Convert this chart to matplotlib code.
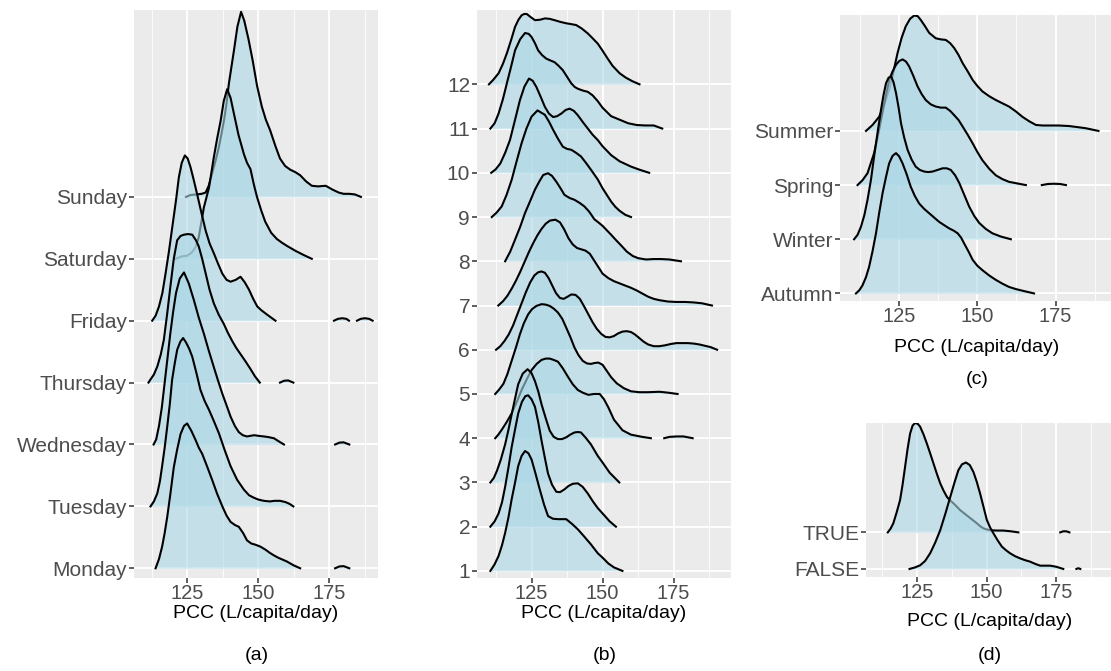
import numpy as np
import matplotlib.pyplot as plt

plt.rcParams['font.family'] = ['Liberation Sans', 'DejaVu Sans']

# ---- panel (a): day of week ----
days = ['Monday', 'Tuesday', 'Wednesday', 'Thursday', 'Friday', 'Saturday', 'Sunday']
sun_x = [124.5,126,128,130,131.4,132.5,133.7,135,136.1,137,137.9,138.8,139.6,140.5,141.4,142.6,143.9,145,146.5,148,
         149.5,151.2,152.6,154.1,156,157.6,159.4,161.2,163,164.7,166.8,168.8,171,173.7,176,178.3,180,182,184,186.1]
sun_h = [0,0.03,0.04,0.05,0.07,0.18,0.38,0.6,0.81,1.02,1.24,1.52,1.83,2.1,2.37,2.75,2.99,2.85,2.55,2.2,
         1.8,1.46,1.25,1.08,0.82,0.62,0.5,0.44,0.4,0.35,0.25,0.18,0.17,0.18,0.12,0.07,0.05,0.05,0.04,0]
sat_x = [120.9,123,124.9,126.5,127.9,129,129.6,130.8,132.6,134.3,135.5,136.7,137.8,139,140.2,141.4,143,144.9,146,147.2,
         148.4,149.5,151,152.4,154.5,156.5,158.3,160,163,166,168.8]
sat_h = [0,0.04,0.05,0.1,0.19,0.35,0.51,0.83,1.15,1.64,1.95,2.23,2.55,2.74,2.6,2.34,2.0,1.69,1.55,1.45,
         1.2,1.0,0.78,0.6,0.42,0.32,0.26,0.21,0.13,0.06,0]
fri_x = [112.6,113.8,115,116.2,117.3,118.5,119.7,121,122,123,124.1,125.1,126.1,127.2,128.4,129.9,131.4,132.8,134.3,135.8,
         137.3,138.8,140.2,142,143.7,145.2,146.7,148.2,149.6,151,153,156]
fri_h = [0,0.08,0.23,0.45,0.76,1.12,1.52,1.95,2.32,2.55,2.67,2.62,2.48,2.28,2.05,1.75,1.46,1.25,1.09,0.92,
         0.76,0.66,0.63,0.66,0.71,0.62,0.5,0.35,0.23,0.17,0.1,0]
thu_x = [111.3,112,113.2,114.4,115.6,116.7,117.9,119,120.2,121.4,122.6,123.8,125.2,126.7,128,129,130.2,131.4,132.8,134.3,
         136,137.9,139.3,140.8,142.2,143.7,145.5,147.2,148.8,150.5]
thu_h = [0,0.05,0.13,0.26,0.45,0.69,1.12,1.55,2.0,2.3,2.37,2.39,2.4,2.39,2.3,2.2,2.0,1.77,1.5,1.28,
         1.1,0.94,0.8,0.67,0.56,0.46,0.34,0.22,0.1,0]
wed_x = [113.1,114,115,116,117,118,119,120,121,122.3,123.8,125.5,127.3,129,130.8,132.5,134.3,135.8,137.3,138.8,
         140.2,141.7,143.1,144.5,146,147.2,148.5,150,151.9,153.5,155.5,157.2,159]
wed_h = [0,0.08,0.3,0.6,1.0,1.4,1.8,2.15,2.45,2.68,2.78,2.6,2.33,2.05,1.79,1.52,1.25,1.03,0.82,0.63,
         0.45,0.3,0.2,0.15,0.13,0.14,0.15,0.14,0.13,0.12,0.1,0.05,0]
tue_x = [112,113.2,114.4,115.3,116.1,117,117.9,118.8,119.6,120.5,121.4,122.5,123.5,124.5,125.6,126.7,128.2,129.6,131.1,132.6,
         134.3,136.1,138.2,140.2,142.5,144.9,146.7,148.4,150,151.9,154,155.7,157.6,159.5,161,162.3]
tue_h = [0,0.08,0.21,0.4,0.65,0.95,1.29,1.65,2.04,2.3,2.53,2.66,2.72,2.65,2.55,2.42,2.15,1.88,1.7,1.56,
         1.38,1.18,0.9,0.65,0.43,0.27,0.18,0.14,0.11,0.09,0.08,0.09,0.09,0.07,0.04,0]
mon_x = [113.8,115,116.1,117,117.9,119,120.2,121.4,122.6,123.8,124.9,126.4,127.9,129,130.2,131.9,133.7,135.5,137.3,138.8,
         140.2,141.7,143.1,144.6,146,147.5,149,150.7,152.5,154,155.4,157,158.5,160,162.3,164.7]
mon_h = [0,0.15,0.35,0.57,0.83,1.2,1.63,1.92,2.17,2.3,2.34,2.22,2.07,1.95,1.85,1.65,1.43,1.2,1.0,0.85,
         0.75,0.7,0.67,0.57,0.45,0.4,0.38,0.35,0.3,0.25,0.21,0.17,0.14,0.11,0.05,0]
# small isolated bits of density far out in the tail
fri_tail1_x, fri_tail1_h = [176.6,178,179.5,181,181.9], [0,0.03,0.04,0.03,0]
fri_tail2_x, fri_tail2_h = [184.7,186,187.5,189,190.2], [0,0.03,0.04,0.03,0]
thu_tail_x, thu_tail_h = [157.6,159,160.5,162.3], [0,0.03,0.035,0]
wed_tail_x, wed_tail_h = [177,178.5,180,182], [0,0.03,0.035,0]
mon_tail_x, mon_tail_h = [177,178.5,180,182], [0,0.03,0.035,0]

# ---- panel (b): month ----
months = [str(m) for m in range(1, 13)]
m1_x = [110.5,112,113.4,114.6,115.7,116.9,118,119.2,120.3,121.5,122.7,123.9,125,126.4,127.9,129.4,130.8,132.5,134.3,135.8,
        137.2,139.3,141.3,143.5,145.9,148.3,150,152,154,157]
m1_h = [0,0.15,0.34,0.58,0.86,1.22,1.62,2.0,2.37,2.6,2.71,2.66,2.52,2.2,1.84,1.5,1.24,1.18,1.17,1.17,
        1.17,1.06,0.94,0.78,0.6,0.4,0.3,0.17,0.08,0]
m2_x = [110.5,112,113.4,114.6,115.7,116.9,118,119.2,120.3,121.6,122.8,123.8,125,126.2,127.4,128.5,129.7,130.8,132.2,133.7,
        135,136.5,138,139.5,141.3,143,144.8,146.5,148.3,150,152.5,154.7]
m2_h = [0,0.12,0.3,0.55,0.9,1.35,1.8,2.2,2.56,2.82,2.95,2.97,2.88,2.71,2.35,1.95,1.55,1.2,0.95,0.79,
        0.78,0.84,0.92,0.97,0.98,0.9,0.75,0.58,0.42,0.3,0.12,0]
m3_x = [110.5,111.7,112.8,114.2,115.7,116.9,118,119.2,120.3,121.9,123.6,125,126.2,127.4,128.5,130,131.4,132.8,134.3,135.7,
        137.2,138.6,140.1,141.3,142.4,144.2,145.9,148.3,150,152.5,155.9]
m3_h = [0,0.1,0.26,0.52,0.86,1.2,1.54,1.9,2.22,2.46,2.56,2.47,2.29,2.05,1.77,1.45,1.17,1.03,0.98,0.98,
        1.02,1.08,1.13,1.14,1.13,1.0,0.86,0.6,0.45,0.22,0]
m4_x = [112.2,113.3,114.5,116.2,118,119.8,121.5,123.3,125,126.8,128.5,130,131.4,132.8,134.3,136,137.8,139.5,141.3,143,
        145,147,149,150.5,152,154,157,160,164,167]
m4_h = [0,0.08,0.19,0.36,0.56,0.82,1.09,1.33,1.54,1.68,1.77,1.8,1.8,1.77,1.73,1.58,1.39,1.22,1.09,1.03,
        0.98,1.0,1.0,0.88,0.7,0.42,0.18,0.08,0.03,0]
m5_x = [112.2,113.6,115.1,116.5,118,119.5,120.9,122.3,123.8,125.2,126.7,128.5,130,131.4,132.8,134.3,135.8,137.2,138.7,140.1,
        141.5,143,144.5,145.9,147.2,148.5,150,151.5,153,155,157.5,160,163,166,170,173,176.4]
m5_h = [0,0.1,0.23,0.45,0.75,1.05,1.35,1.6,1.8,1.92,1.99,2.03,2.02,1.99,1.93,1.84,1.7,1.5,1.28,1.05,
        0.88,0.75,0.69,0.68,0.7,0.71,0.66,0.52,0.38,0.24,0.13,0.06,0.04,0.04,0.05,0.03,0]
m6_x = [112.5,114,115.5,117,118.5,120,121.5,123,124.5,126,127.3,128.5,129.7,131,132.3,133.6,135,136.3,137.7,139,
        140.5,142,143.5,145,146.5,148,149.5,151,152.5,154,155.5,157,158.5,160,161.5,163,164.5,166,168,170,
        172,174,176,178,180,182,184,186,188,190.3]
m6_h = [0,0.08,0.2,0.35,0.55,0.8,1.05,1.3,1.52,1.68,1.75,1.77,1.74,1.62,1.45,1.28,1.17,1.15,1.2,1.25,
        1.24,1.15,0.98,0.8,0.62,0.47,0.36,0.29,0.28,0.31,0.37,0.41,0.42,0.4,0.34,0.26,0.18,0.12,0.08,0.08,
        0.1,0.13,0.15,0.15,0.15,0.14,0.12,0.09,0.06,0]
m7_x = [113.3,115,116.5,118,119.5,121,122.5,124,125.5,127,128.5,130,131.5,133.4,135,136.5,138,139.5,141,142.5,
        144,145.5,147,148.5,150,152,154,156,158,160,162,164,166,168,170,173,176,179,182,185,188.5]
m7_h = [0,0.1,0.22,0.38,0.56,0.76,0.98,1.2,1.4,1.58,1.73,1.85,1.92,1.94,1.88,1.72,1.52,1.38,1.3,1.27,
        1.24,1.17,1.02,0.87,0.72,0.62,0.55,0.5,0.45,0.4,0.34,0.27,0.2,0.15,0.12,0.09,0.08,0.08,0.07,0.05,0]
m8_x = [115.7,117.5,119.2,121,122.7,124.5,126.2,127.7,129.1,130.8,132.2,133.7,135.2,136.6,138.4,140.1,141.9,143.6,145.3,147.1,
        148.5,150,151.5,153,154.7,156.5,158.5,160.6,162.5,165.3,168,170.5,173.5,177.6]
m8_h = [0,0.22,0.49,0.78,1.09,1.36,1.62,1.8,1.95,1.99,1.93,1.8,1.65,1.5,1.43,1.39,1.32,1.24,1.12,0.95,
        0.88,0.8,0.7,0.6,0.48,0.36,0.22,0.12,0.07,0.04,0.05,0.05,0.04,0]
m9_x = [111,112.7,114.5,116.2,118,119.7,121.5,123.2,125,127.1,129.7,131.2,132.6,134.3,136,137.5,139,140.7,142.4,144.2,
        145.9,148.3,150,151.5,153,154.5,156,158,160]
m9_h = [0,0.1,0.24,0.5,0.84,1.25,1.67,2.0,2.27,2.41,2.31,2.15,1.97,1.77,1.59,1.54,1.52,1.45,1.37,1.22,
        1.07,0.85,0.65,0.5,0.35,0.23,0.14,0.05,0]
m10_x = [110.8,112.4,114,115.7,117.4,119.2,120.9,122.5,124.1,125.4,126.7,128.2,129.7,131.1,132.6,134,135.5,137,138.4,139.9,
         141.3,143,144.8,146.5,148.3,150,153,156,160,163,166.4]
m10_h = [0,0.08,0.21,0.45,0.74,1.2,1.64,1.95,2.13,2.08,1.94,1.72,1.49,1.34,1.26,1.28,1.34,1.42,1.45,1.4,
         1.3,1.15,1.0,0.86,0.74,0.6,0.4,0.26,0.14,0.07,0]
m11_x = [110.5,112,113.4,114.9,116.3,117.8,119.2,121,122.7,124,125,126.2,127.3,128.7,130.2,131.6,133.1,134.5,136,137.5,
         139,140.2,141.3,143,144.8,146.5,148.3,150,153,156,159,162,165,168,171]
m11_h = [0,0.12,0.34,0.66,1.02,1.4,1.77,2.02,2.16,2.14,2.07,1.93,1.77,1.66,1.58,1.54,1.5,1.42,1.32,1.17,
         1.02,0.94,0.9,0.86,0.83,0.75,0.62,0.47,0.28,0.2,0.12,0.08,0.07,0.07,0]
m12_x = [110,111.5,113.4,114.9,116.3,117.8,119.2,120.4,121.5,122.4,123.3,124.7,126.2,128,129.7,131.4,133.1,135.2,137.2,139,
         140.7,142.7,144.8,146.5,148.3,150,151.8,153.5,156,158.2,160.5,163]
m12_h = [0,0.1,0.25,0.46,0.7,1.0,1.3,1.46,1.56,1.59,1.59,1.52,1.45,1.46,1.49,1.48,1.45,1.41,1.38,1.36,
         1.34,1.26,1.15,1.04,0.92,0.76,0.58,0.42,0.25,0.15,0.07,0]
m4_tail_x, m4_tail_h = [171.7,173.5,176,178.5,181.7], [0,0.03,0.04,0.04,0]

# ---- panel (c): season ----
seasons = ['Autumn', 'Winter', 'Spring', 'Summer']
summer_x = [114.4,116.5,118.6,120.2,121.8,123.2,124.5,125.8,127.1,128.5,129.8,130.9,131.9,133.3,134.6,136.7,138.3,139.9,141.3,142.6,
            144,145.3,146.9,148.5,150,151.6,153.8,155.9,158,160.1,162.3,164.4,166.5,168.7,170.8,172.9,176,179.3,182,184.6,188.7]
summer_h = [0,0.11,0.26,0.48,0.76,1.1,1.44,1.72,1.93,2.07,2.13,2.12,2.05,1.93,1.81,1.71,1.69,1.68,1.62,1.53,
            1.4,1.25,1.1,0.94,0.83,0.73,0.64,0.57,0.51,0.45,0.36,0.26,0.18,0.11,0.1,0.1,0.1,0.09,0.07,0.05,0]
spring_x = [111.7,113.3,114.9,117,118.1,119.2,120.5,121.8,122.9,124,125,126.1,127.2,128.2,129.5,130.9,132.2,133.5,135.1,136.7,
            138.3,139.9,141.3,142.6,144,145.3,146.9,148.5,150,151.6,153.8,155.9,158,160.1,162.8,165.5]
spring_h = [0,0.09,0.22,0.59,0.88,1.2,1.58,1.94,2.1,2.22,2.29,2.32,2.28,2.19,2.02,1.82,1.68,1.57,1.49,1.45,
            1.43,1.43,1.37,1.29,1.2,1.08,0.93,0.77,0.61,0.46,0.3,0.18,0.11,0.06,0.03,0]
winter_x = [110.6,111.7,112.8,113.9,114.9,116,117,118.1,119.2,120,120.8,121.6,122.4,123.2,124,124.8,125.6,126.6,127.7,129,
            130.3,131.6,133,134.3,135.7,137.3,138.9,140.2,141.5,142.9,144.2,145.8,147.4,149,150.6,152.7,154.8,157.5,160.7]
winter_h = [0,0.08,0.23,0.45,0.73,1.1,1.53,1.97,2.39,2.66,2.88,2.98,3.01,2.9,2.7,2.44,2.14,1.88,1.65,1.47,
            1.34,1.28,1.25,1.24,1.25,1.28,1.31,1.31,1.28,1.18,1.04,0.82,0.6,0.43,0.3,0.19,0.11,0.05,0]
autumn_x = [111.2,112.3,113.3,114.4,115.4,116.5,117.6,118.6,119.7,120.8,121.8,122.9,124,125,126.1,127.4,128.7,130,131.4,133,
            134.6,136.2,137.8,139.4,141,142.4,143.7,144.8,145.8,147.2,148.5,150,151.6,153.8,155.9,158,160.1,162.3,164.4,168.1]
autumn_h = [0,0.06,0.15,0.3,0.49,0.78,1.11,1.48,1.85,2.15,2.4,2.54,2.59,2.53,2.4,2.2,1.97,1.8,1.66,1.56,
            1.48,1.4,1.32,1.26,1.2,1.16,1.11,1.03,0.92,0.77,0.62,0.51,0.43,0.33,0.25,0.18,0.12,0.08,0.05,0]
spring_tail_x, spring_tail_h = [170.6,172.5,174.5,176.5,178.3], [0,0.02,0.025,0.02,0]

# ---- panel (d): TRUE / FALSE ----
flags = ['FALSE', 'TRUE']
true_x = [114.6,115.6,116.6,117.8,119,119.9,120.8,121.7,122.6,123.5,124.4,125.3,126.2,127.4,128.6,129.8,131,132.2,133.4,134.6,
          135.8,137,138.2,139.4,140.5,142,143.5,145,146.5,147.7,148.9,150.1,151.3,153.5,156,158.7,161.4]
true_h = [0,0.1,0.25,0.55,0.88,1.3,1.79,2.28,2.7,2.92,2.99,2.97,2.89,2.68,2.43,2.16,1.88,1.6,1.34,1.14,
          0.97,0.87,0.79,0.7,0.61,0.52,0.43,0.34,0.25,0.17,0.11,0.08,0.06,0.05,0.05,0.03,0]
false_x = [122.4,124.3,126.2,128,129.8,131.6,133.4,135.2,137,138.5,139.9,141.2,142.6,144,145.3,146.5,147.7,148.9,150.1,151.3,
           152.5,154,155.5,157,158.4,160.2,162,163.8,165.6,167.4,169.2,171,172.8,175,177.5]
false_h = [0,0.04,0.1,0.22,0.43,0.72,1.06,1.5,1.97,2.36,2.7,2.86,2.91,2.84,2.65,2.38,2.06,1.7,1.34,1.13,
           0.97,0.78,0.61,0.51,0.43,0.35,0.29,0.24,0.2,0.14,0.09,0.09,0.09,0.06,0]
true_tail_x, true_tail_h = [176.4,177.5,178.6,179.7], [0,0.03,0.03,0]
false_tail_x, false_tail_h = [182.2,182.9,183.6], [0,0.02,0]


W, H = 1111, 671
FILL = '#add8e6'
fig = plt.figure(figsize=(W / 100, H / 100), dpi=100)


def make_ax(left, top, right, bottom, xlim, ylim, cats):
    ax = fig.add_axes([left / W, 1 - bottom / H, (right - left) / W, (bottom - top) / H])
    ax.set_facecolor('#EBEBEB')
    ax.set_xlim(*xlim)
    ax.set_ylim(*ylim)
    for v in [112.5, 137.5, 162.5, 187.5]:
        ax.axvline(v, color='white', lw=0.6, zorder=1)
    for v in [125, 150, 175]:
        ax.axvline(v, color='white', lw=1.3, zorder=1)
    for k in range(1, len(cats) + 1):
        ax.axhline(k, color='white', lw=1.3, zorder=1)
    ax.set_xticks([125, 150, 175])
    ax.set_yticks(range(1, len(cats) + 1))
    ax.set_yticklabels(cats)
    ax.tick_params(length=3.5, width=1.1, color='#333333', labelcolor='#4D4D4D', labelsize=15, pad=1.5)
    ax.tick_params(axis='x', labelsize=14.5, pad=1)
    for s in ax.spines.values():
        s.set_visible(False)
    return ax


def draw_ridges(ax, cats, curves, tails):
    # upper ridges first, so the lower ones sit in front of them
    z = 2
    for k in range(len(cats), 0, -1):
        cat = cats[k - 1]
        segs = [curves[cat]] + tails.get(cat, [])
        for xs, hs in segs:
            xs = np.array(xs)
            hs = np.array(hs)
            ax.fill_between(xs, k, k + hs, color=FILL, alpha=0.6, lw=0, zorder=z)
            ax.plot(xs, k + hs, color='black', lw=1.5, zorder=z + 1)
        z += 2


def labels(cx, y_title, tag, x_tag, y_tag):
    fig.text(cx / W, 1 - y_title / H, 'PCC (L/capita/day)', ha='center', va='center', fontsize=14)
    fig.text(x_tag / W, 1 - y_tag / H, tag, ha='center', va='center', fontsize=14)


# (a)
ax_a = make_ax(134, 10, 378, 578, (106.2, 192.1), (0.843, 10.02), days)
draw_ridges(ax_a, days,
            {'Sunday': (sun_x, sun_h), 'Saturday': (sat_x, sat_h), 'Friday': (fri_x, fri_h),
             'Thursday': (thu_x, thu_h), 'Wednesday': (wed_x, wed_h), 'Tuesday': (tue_x, tue_h),
             'Monday': (mon_x, mon_h)},
            {'Friday': [(fri_tail1_x, fri_tail1_h), (fri_tail2_x, fri_tail2_h)],
             'Thursday': [(thu_tail_x, thu_tail_h)], 'Wednesday': [(wed_tail_x, wed_tail_h)],
             'Monday': [(mon_tail_x, mon_tail_h)]})
labels(256, 613, '(a)', 257, 655)

# (b)
ax_b = make_ax(477, 10, 731, 578, (105.8, 195.2), (0.84, 13.68), months)
month_x = [m1_x, m2_x, m3_x, m4_x, m5_x, m6_x, m7_x, m8_x, m9_x, m10_x, m11_x, m12_x]
month_h = [m1_h, m2_h, m3_h, m4_h, m5_h, m6_h, m7_h, m8_h, m9_h, m10_h, m11_h, m12_h]
draw_ridges(ax_b, months, {m: (month_x[i], month_h[i]) for i, m in enumerate(months)},
            {'4': [(m4_tail_x, m4_tail_h)]})
labels(604, 613, '(b)', 605, 655)

# (c)
ax_c = make_ax(840, 15, 1111, 301, (106.1, 192.7), (0.86, 6.14), seasons)
draw_ridges(ax_c, seasons,
            {'Summer': (summer_x, summer_h), 'Spring': (spring_x, spring_h),
             'Winter': (winter_x, winter_h), 'Autumn': (autumn_x, autumn_h)},
            {'Spring': [(spring_tail_x, spring_tail_h)]})
labels(977, 348, '(c)', 977, 380)

# (d)
ax_d = make_ax(866, 423, 1111, 577, (106.8, 194.6), (0.78, 4.99), flags)
draw_ridges(ax_d, flags,
            {'TRUE': (true_x, true_h), 'FALSE': (false_x, false_h)},
            {'TRUE': [(true_tail_x, true_tail_h)], 'FALSE': [(false_tail_x, false_tail_h)]})
labels(990, 622, '(d)', 990, 655)

fig.savefig('out.png', dpi=100)
